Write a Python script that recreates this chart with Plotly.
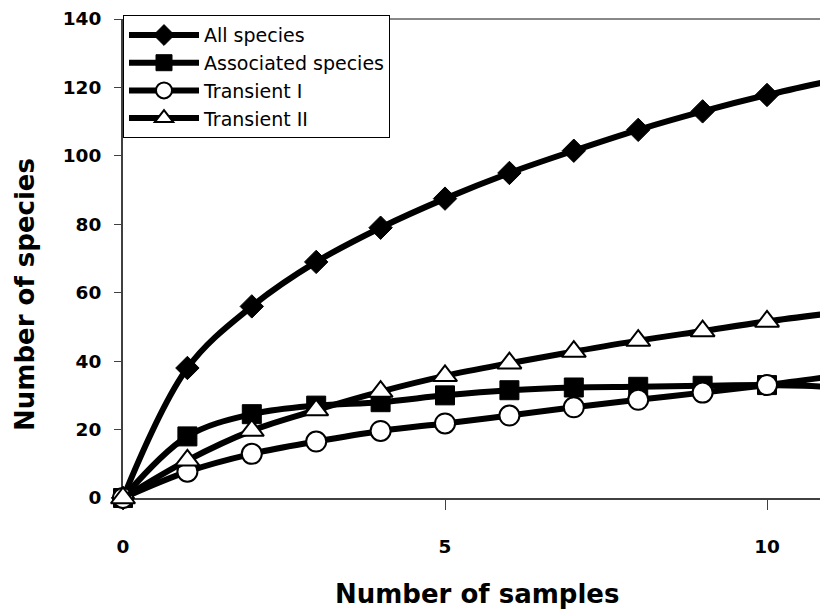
import plotly.graph_objects as go

samples = [0, 1, 2, 3, 4, 5, 6, 7, 8, 9, 10, 11]
all_species = [0, 38, 56, 69, 79, 87.5, 95, 101.5, 107.6, 113, 117.8, 122]
associated = [0, 18, 24.5, 27, 28, 30, 31.5, 32.3, 32.5, 32.8, 33, 32.5]
transient_1 = [0, 7.7, 12.9, 16.5, 19.6, 21.8, 24.1, 26.5, 28.7, 30.8, 33, 35.5]
transient_2 = [0, 11, 19.7, 25.7, 31.1, 35.7, 39.4, 42.8, 46, 48.8, 51.6, 54]

x_ticks = [0, 5, 10]
y_ticks = [0, 20, 40, 60, 80, 100, 120, 140]

x_title = "Number of samples"
y_title = "Number of species"

series = [
    ("All species", all_species, dict(symbol="diamond", size=18, color="black",
                                      line=dict(color="black", width=1))),
    ("Associated species", associated, dict(symbol="square", size=19, color="black",
                                            line=dict(color="black", width=1))),
    ("Transient I", transient_1, dict(symbol="circle", size=20, color="white",
                                      line=dict(color="black", width=2))),
    ("Transient II", transient_2, dict(symbol="triangle-up", size=21, color="white",
                                       line=dict(color="black", width=2))),
]

fig = go.Figure()
for name, vals, mk in series:
    fig.add_trace(go.Scatter(
        x=samples, y=vals, name=name, mode="lines+markers",
        line=dict(color="black", width=6, shape="spline", smoothing=1.0),
        marker=mk, cliponaxis=False,
    ))

axis_color = "#404040"
title_font = dict(family="DejaVu Sans", size=26, color="black", weight="bold")
tick_font = dict(family="DejaVu Sans", size=18.5, color="black", weight="bold")

# the page body adds an 8px offset; margins compensate for it
fig.update_layout(
    width=820, height=607,
    margin=dict(l=115, r=0, t=11, b=117, autoexpand=False),
    paper_bgcolor="white", plot_bgcolor="white",
    font=dict(family="DejaVu Sans", color="black"),
    showlegend=True,
    legend=dict(
        x=0, y=1.008, xanchor="left", yanchor="top",
        bordercolor="black", borderwidth=1, bgcolor="white",
        font=dict(family="DejaVu Sans", size=19, color="black"),
        itemwidth=70, tracegroupgap=0,
    ),
    xaxis=dict(
        range=[0, 10.947], tickvals=x_ticks, ticktext=[str(v) for v in x_ticks],
        showgrid=False, zeroline=False, showline=True, linecolor=axis_color, linewidth=2,
        ticks="outside", ticklen=10, tickwidth=1, tickcolor=axis_color,
        tickfont=tick_font, automargin=False,
        ticklabelstandoff=21, layer="below traces",
    ),
    yaxis=dict(
        range=[0, 140], tickvals=y_ticks,
        showgrid=False, zeroline=False, showline=True, linecolor=axis_color, linewidth=2,
        ticks="outside", ticklen=7, tickwidth=1, tickcolor=axis_color,
        tickfont=tick_font, automargin=False,
        ticklabelstandoff=9, layer="below traces",
    ),
    shapes=[dict(type="line", xref="paper", yref="paper", x0=0, x1=1, y0=1, y1=1,
                 line=dict(color="#888888", width=2), layer="below")],
    annotations=[
        dict(text=x_title, xref="paper", yref="paper", x=0.502, y=-0.200,
             xanchor="center", yanchor="middle", showarrow=False, font=title_font),
        dict(text=y_title, xref="paper", yref="paper", x=-0.139, y=0.424,
             xanchor="center", yanchor="middle", showarrow=False, textangle=-90,
             font=title_font),
    ],
)

fig.write_html("out.html")
